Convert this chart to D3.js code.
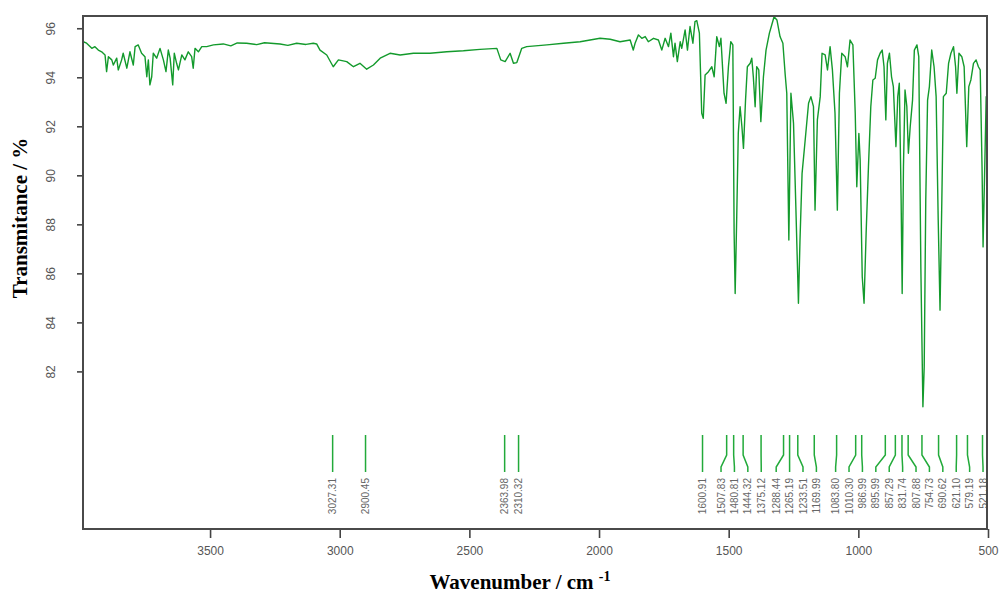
<!DOCTYPE html>
<html>
<head>
<meta charset="utf-8">
<script src="https://cdn.jsdelivr.net/npm/d3@7"></script>
<style>
  body { margin: 0; background: #fff; }
  svg { display: block; }
</style>
</head>
<body>
<div id="chart"></div>
<script>
// spectrum: wavenumber (cm-1) and transmittance (%)
const wavenumber = [
  3989, 3976, 3956, 3944, 3931, 3918, 3905, 3899, 3892, 3879, 3873, 3860, 3854, 3841, 3835, 3821,
  3809, 3796, 3789, 3777, 3764, 3751, 3744, 3738, 3732, 3725, 3719, 3706, 3693, 3680, 3670, 3661,
  3654, 3644, 3638, 3629, 3622, 3609, 3597, 3584, 3571, 3565, 3558, 3545, 3532, 3513, 3487, 3449,
  3420, 3395, 3359, 3320, 3290, 3230, 3200, 3166, 3130, 3102, 3089, 3076, 3050, 3025, 3005, 2973,
  2947, 2922, 2896, 2870, 2844, 2806, 2767, 2716, 2652, 2587, 2523, 2459, 2394, 2379, 2362, 2343,
  2330, 2317, 2298, 2279, 2201, 2137, 2073, 1996, 1957, 1919, 1880, 1868, 1861, 1848, 1835, 1822,
  1810, 1790, 1771, 1758, 1745, 1732, 1723, 1713, 1707, 1698, 1687, 1681, 1668, 1659, 1649, 1638,
  1630, 1623, 1613, 1604, 1598, 1591, 1578, 1565, 1556, 1546, 1536, 1530, 1518, 1510, 1501, 1492,
  1484, 1479, 1475, 1469, 1463, 1456, 1449, 1443, 1435, 1428, 1417, 1411, 1405, 1398, 1392, 1384,
  1376, 1366, 1356, 1343, 1334, 1325, 1314, 1302, 1291, 1282, 1276, 1268, 1260, 1250, 1241, 1231,
  1225, 1217, 1205, 1192, 1183, 1173, 1167, 1158, 1147, 1140, 1128, 1119, 1109, 1100, 1090, 1081,
  1073, 1064, 1051, 1042, 1032, 1021, 1012, 1006, 998, 993, 985, 978, 970, 961, 952, 944,
  935, 926, 916, 908, 901, 894, 888, 880, 872, 865, 855, 848, 842, 835, 831, 826,
  820, 813, 807, 800, 791, 784, 774, 767, 759, 751, 746, 740, 733, 726, 717, 708,
  700, 692, 685, 678, 672, 661, 652, 643, 633, 625, 620, 612, 601, 592, 582, 574,
  566, 556, 546, 537, 530, 523, 519, 512, 507, 502
];
const transmittance = [
  95.45, 95.39, 95.18, 95.25, 95.11, 95.04, 94.91, 94.23, 94.84, 94.71, 94.50, 94.78, 94.30, 94.71, 94.98, 94.37,
  95.04, 94.50, 95.25, 95.32, 94.98, 94.84, 94.02, 94.71, 93.69, 94.02, 94.98, 94.78, 95.18, 94.71, 94.23, 95.11,
  94.78, 93.69, 94.98, 94.57, 94.30, 94.91, 94.71, 95.04, 94.84, 94.37, 95.18, 95.04, 95.25, 95.25, 95.32, 95.36,
  95.28, 95.40, 95.39, 95.33, 95.41, 95.36, 95.30, 95.39, 95.34, 95.39, 95.36, 95.11, 94.91, 94.43, 94.71, 94.64,
  94.43, 94.57, 94.33, 94.50, 94.78, 94.98, 94.91, 94.98, 94.98, 95.04, 95.08, 95.14, 95.18, 94.71, 94.64, 94.98,
  94.57, 94.60, 95.18, 95.25, 95.32, 95.39, 95.45, 95.59, 95.55, 95.45, 95.52, 95.11, 95.39, 95.73, 95.59, 95.66,
  95.45, 95.59, 95.52, 95.11, 95.59, 95.25, 95.80, 94.84, 95.39, 94.64, 95.45, 95.18, 95.93, 95.11, 96.07, 95.39,
  96.27, 96.31, 95.80, 92.53, 92.33, 94.09, 94.23, 94.43, 94.02, 95.66, 95.25, 95.59, 93.35, 92.94, 94.43, 95.45,
  95.32, 87.63, 85.18, 88.31, 91.71, 92.80, 91.98, 91.10, 93.07, 94.43, 94.57, 94.78, 94.02, 92.80, 94.43, 94.30,
  92.19, 94.02, 95.11, 95.80, 96.13, 96.47, 96.34, 95.66, 95.39, 94.09, 93.35, 87.36, 93.35, 92.12, 88.72, 84.78,
  87.36, 90.08, 91.44, 92.94, 93.21, 92.80, 88.58, 92.26, 93.21, 94.98, 94.91, 94.30, 95.25, 94.30, 92.53, 88.58,
  93.35, 94.98, 94.84, 94.43, 95.52, 95.32, 92.53, 89.53, 91.71, 90.62, 85.86, 84.78, 87.63, 90.35, 92.80, 93.89,
  93.96, 94.71, 94.98, 95.11, 94.43, 92.26, 94.57, 94.98, 94.02, 93.62, 91.17, 93.21, 93.76, 88.99, 85.18, 90.35,
  93.48, 92.80, 90.90, 91.98, 93.07, 95.11, 95.32, 94.84, 86.27, 80.56, 82.19, 88.99, 93.07, 93.62, 95.11, 94.43,
  93.21, 88.18, 84.50, 88.99, 93.21, 93.35, 94.57, 94.98, 95.25, 94.43, 93.35, 94.98, 94.84, 94.43, 91.17, 93.62,
  93.89, 94.57, 94.71, 94.43, 94.30, 90.35, 87.08, 90.62, 93.21, 91.71
];

// marked peaks, left to right
const peakLabels = ['3027.31', '2900.45', '2363.98', '2310.32', '1600.91', '1507.83', '1480.81',
  '1444.32', '1375.12', '1288.44', '1265.19', '1233.51', '1169.99', '1083.80', '1010.30', '986.99',
  '895.99', '857.29', '831.74', '807.88', '754.73', '690.62', '621.10', '579.19', '521.18'];
const peaks = peakLabels.map(Number);

const xTicks = [3500, 3000, 2500, 2000, 1500, 1000, 500];
const yTicks = [82, 84, 86, 88, 90, 92, 94, 96];

const W = 1003, H = 595;
const plot = { left: 83, top: 16, right: 988, bottom: 529 };

const svg = d3.select('#chart').append('svg')
    .attr('width', W)
    .attr('height', H);

const x = d3.scaleLinear().domain([3990, 500]).range([plot.left, plot.right]);
const y = d3.scaleLinear().domain([75.57, 96.5]).range([plot.bottom, plot.top]);

svg.append('clipPath').attr('id', 'clip')
  .append('rect')
    .attr('x', plot.left).attr('y', plot.top)
    .attr('width', plot.right - plot.left).attr('height', plot.bottom - plot.top);

// spectrum
const pts = wavenumber.map((w, i) => [w, transmittance[i]]);
svg.append('path')
    .datum(pts)
    .attr('clip-path', 'url(#clip)')
    .attr('fill', 'none')
    .attr('stroke', '#139a2c')
    .attr('stroke-width', 1.4)
    .attr('stroke-linejoin', 'round')
    .attr('d', d3.line().x(d => x(d[0])).y(d => y(d[1])));

// peak markers: labels pushed apart in clusters so they do not overlap
const gap = 13.4;
function spread(xs) {
  let clusters = xs.map((v, i) => ({ idx: [i], sum: v }));
  const start = c => Math.min(c.sum / c.idx.length - (c.idx.length - 1) * gap / 2,
                              plot.right - 4 - (c.idx.length - 1) * gap);
  let merged = true;
  while (merged) {
    merged = false;
    for (let k = 0; k < clusters.length - 1; k++) {
      const a = clusters[k], b = clusters[k + 1];
      const aEnd = start(a) + (a.idx.length - 1) * gap;
      if (start(b) - aEnd < gap) {
        clusters.splice(k, 2, { idx: a.idx.concat(b.idx), sum: a.sum + b.sum });
        merged = true;
        break;
      }
    }
  }
  const out = [];
  clusters.forEach(c => c.idx.forEach((i, j) => { out[i] = start(c) + j * gap; }));
  return out;
}
const peakX = peaks.map(p => x(p));
const lx = spread(peakX);

const mk = svg.append('g').selectAll('g')
  .data(peaks)
  .join('g');

mk.append('path')
    .attr('fill', 'none')
    .attr('stroke', '#22aa3a')
    .attr('stroke-width', 1.5)
    .attr('d', (d, i) => `M${peakX[i]},435V455L${lx[i]},467V472`);

mk.append('text')
    .attr('transform', (d, i) => `translate(${lx[i] + 3.6},478) rotate(-90)`)
    .attr('text-anchor', 'end')
    .attr('font-family', 'Liberation Sans, Arial, sans-serif')
    .attr('font-size', 10)
    .attr('fill', '#666')
    .text((d, i) => peakLabels[i]);

// axes
const xAxis = svg.append('g')
    .attr('transform', `translate(0,${plot.bottom})`)
    .call(d3.axisBottom(x).tickValues(xTicks).tickSize(9).tickPadding(8).tickFormat(d3.format('d')));
const yAxis = svg.append('g')
    .attr('transform', `translate(${plot.left},0)`)
    .call(d3.axisLeft(y).tickValues(yTicks).tickSize(6).tickFormat(d3.format('d')));

[xAxis, yAxis].forEach(g => {
  g.select('.domain').remove();
  g.selectAll('.tick line').attr('stroke', '#444').attr('stroke-width', 1.6);
  g.selectAll('.tick text')
    .attr('fill', '#555')
    .attr('font-family', 'Liberation Sans, Arial, sans-serif')
    .attr('font-size', 12);
});
yAxis.selectAll('.tick text')
    .attr('x', null).attr('dy', null)
    .attr('text-anchor', 'middle')
    .attr('transform', 'translate(-28,0) rotate(-90)');

// frame
svg.append('rect')
    .attr('x', plot.left).attr('y', plot.top)
    .attr('width', plot.right - plot.left - 1).attr('height', plot.bottom - plot.top)
    .attr('fill', 'none')
    .attr('stroke', '#4a4a4a')
    .attr('stroke-width', 2);

// titles
svg.append('text')
    .attr('transform', 'translate(27,218) rotate(-90)')
    .attr('text-anchor', 'middle')
    .attr('font-family', 'Liberation Serif, Times New Roman, serif')
    .attr('font-weight', 'bold')
    .attr('font-size', 21)
    .text('Transmitance / %');

const xt = svg.append('text')
    .attr('x', 520).attr('y', 589)
    .attr('text-anchor', 'middle')
    .attr('font-family', 'Liberation Serif, Times New Roman, serif')
    .attr('font-weight', 'bold')
    .attr('font-size', 21);
xt.append('tspan').text('Wavenumber / cm ');
xt.append('tspan').attr('font-size', 14).attr('dy', -8).text('-1');
</script>
</body>
</html>
